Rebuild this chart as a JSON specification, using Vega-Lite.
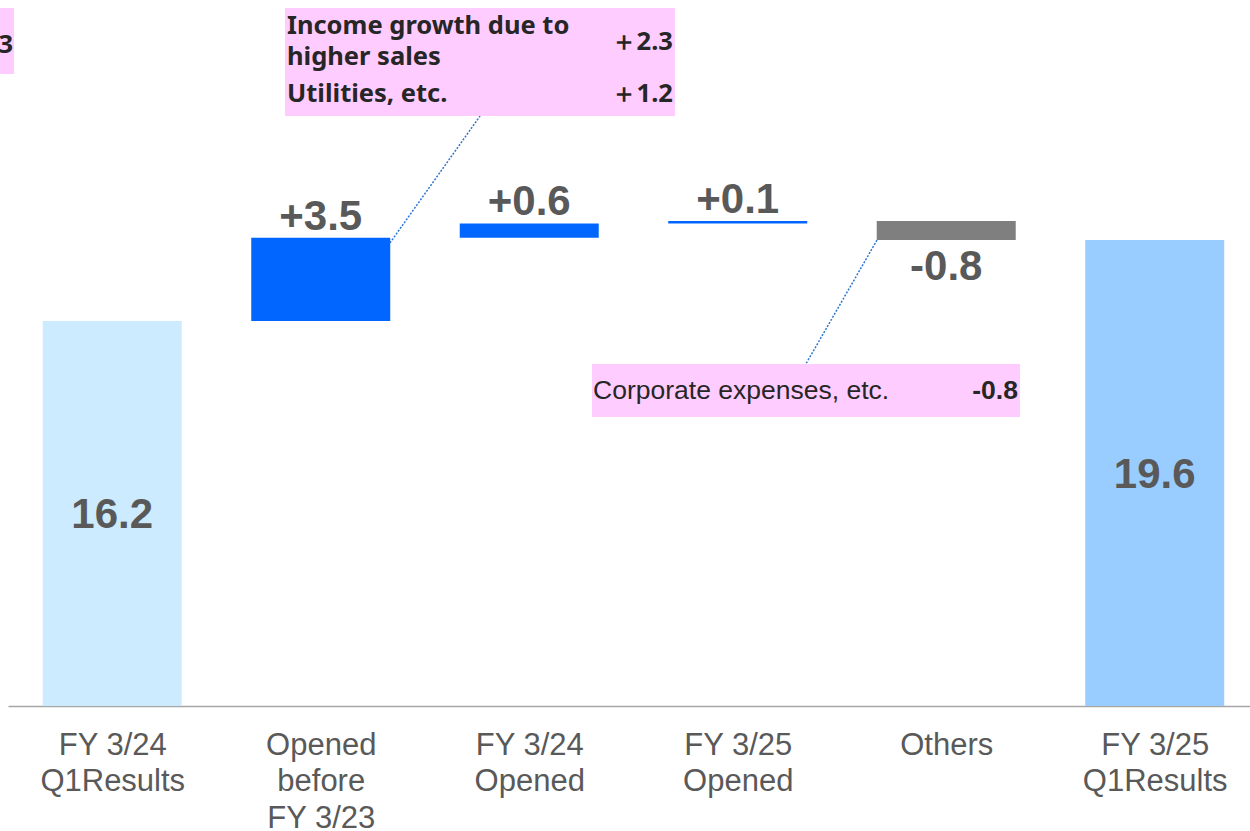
{
  "$schema": "https://vega.github.io/schema/vega-lite/v6.json",
  "autosize": "none",
  "width": 1242,
  "height": 706,
  "padding": {"left": 8, "top": 0, "right": 0, "bottom": 125},
  "background": "white",
  "config": {"view": {"stroke": null}},
  "datasets": {
    "bars": [
      {"pos": 0.5, "start": 0, "end": 16.2, "type": "total1", "label": "16.2"},
      {"pos": 1.5, "start": 16.2, "end": 19.7, "type": "up", "label": "+3.5"},
      {"pos": 2.5, "start": 19.7, "end": 20.3, "type": "up", "label": "+0.6"},
      {"pos": 3.5, "start": 20.3, "end": 20.4, "type": "up", "label": "+0.1"},
      {"pos": 4.5, "start": 20.4, "end": 19.6, "type": "down", "label": "-0.8"},
      {"pos": 5.5, "start": 0, "end": 19.6, "type": "total2", "label": "19.6"}
    ],
    "boxes": [
      {"x1": 1.3285, "x2": 3.199, "y1": 29.36, "y2": 24.82},
      {"x1": 2.801, "x2": 4.854, "y1": 14.39, "y2": 12.16},
      {"x1": -0.04, "x2": 0.029, "y1": 29.36, "y2": 26.59}
    ],
    "leaders": [
      {"x1": 1.832, "y1": 19.48, "x2": 2.264, "y2": 24.82},
      {"x1": 4.168, "y1": 19.6, "x2": 3.827, "y2": 14.39}
    ],
    "noteLeft": [
      {"x": 1.338, "y": 28.6, "text": "Income growth due to"},
      {"x": 1.338, "y": 27.3, "text": "higher sales"},
      {"x": 1.338, "y": 25.75, "text": "Utilities, etc."}
    ],
    "noteRight": [
      {"x": 3.189, "y": 27.94, "text": "＋2.3"},
      {"x": 3.189, "y": 25.75, "text": "＋1.2"},
      {"x": 0.024, "y": 27.81, "text": "3"}
    ],
    "corpLeft": [
      {"x": 2.806, "y": 13.25, "text": "Corporate expenses, etc."}
    ],
    "corpRight": [
      {"x": 4.844, "y": 13.25, "text": "-0.8"}
    ]
  },
  "layer": [
    {
      "data": {"name": "bars"},
      "mark": {"type": "bar", "width": 139},
      "encoding": {
        "x": {
          "field": "pos",
          "type": "quantitative",
          "scale": {"domain": [0, 5.957], "nice": false, "zero": false, "padding": 0},
          "axis": {
            "title": null,
            "values": [0.5, 1.5, 2.5, 3.5, 4.5, 5.5],
            "labelExpr": "[['FY 3/24','Q1Results'],['Opened','before','FY 3/23'],['FY 3/24','Opened'],['FY 3/25','Opened'],['Others'],['FY 3/25','Q1Results']][floor(datum.value)]",
            "grid": false,
            "ticks": false,
            "domainColor": "#A6A6A6",
            "domainWidth": 1.5,
            "labelFont": "Liberation Sans",
            "labelFontSize": 31,
            "labelColor": "#595959",
            "labelLineHeight": 36.5,
            "labelBaseline": "top",
            "labelPadding": 24,
            "labelFlush": false,
            "labelOverlap": false
          }
        },
        "y": {
          "field": "start",
          "type": "quantitative",
          "scale": {"domain": [0, 29.7], "nice": false},
          "axis": null
        },
        "y2": {"field": "end"},
        "color": {
          "field": "type",
          "type": "nominal",
          "scale": {"domain": ["total1", "up", "down", "total2"], "range": ["#CCEBFF", "#0066FF", "#7F7F7F", "#99CCFF"]},
          "legend": null
        }
      }
    },
    {
      "data": {"name": "bars"},
      "transform": [
        {"filter": "datum.type == 'total1' || datum.type == 'total2'"},
        {"fold": ["start", "end"]},
        {"aggregate": [{"op": "mean", "field": "value", "as": "mid"}], "groupby": ["pos", "label"]}
      ],
      "mark": {"type": "text", "font": "Liberation Sans", "fontWeight": "bold", "fontSize": 42, "color": "#595959", "baseline": "middle", "align": "center", "dy": 2},
      "encoding": {
        "x": {"field": "pos", "type": "quantitative"},
        "y": {"field": "mid", "type": "quantitative"},
        "text": {"field": "label"}
      }
    },
    {
      "data": {"name": "bars"},
      "transform": [{"filter": "datum.type == 'up'"}],
      "mark": {"type": "text", "font": "Liberation Sans", "fontWeight": "bold", "fontSize": 42, "color": "#595959", "baseline": "alphabetic", "align": "center", "dy": -8},
      "encoding": {
        "x": {"field": "pos", "type": "quantitative"},
        "y": {"field": "end", "type": "quantitative"},
        "text": {"field": "label"}
      }
    },
    {
      "data": {"name": "bars"},
      "transform": [{"filter": "datum.type == 'down'"}],
      "mark": {"type": "text", "font": "Liberation Sans", "fontWeight": "bold", "fontSize": 42, "color": "#595959", "baseline": "alphabetic", "align": "center", "dy": 40},
      "encoding": {
        "x": {"field": "pos", "type": "quantitative"},
        "y": {"field": "end", "type": "quantitative"},
        "text": {"field": "label"}
      }
    },
    {
      "data": {"name": "leaders"},
      "mark": {"type": "rule", "color": "#2E75D6", "strokeWidth": 1.5, "strokeDash": [2, 1.5]},
      "encoding": {
        "x": {"field": "x1", "type": "quantitative"},
        "x2": {"field": "x2"},
        "y": {"field": "y1", "type": "quantitative"},
        "y2": {"field": "y2"}
      }
    },
    {
      "data": {"name": "boxes"},
      "mark": {"type": "rect", "color": "#FFCCFF"},
      "encoding": {
        "x": {"field": "x1", "type": "quantitative"},
        "x2": {"field": "x2"},
        "y": {"field": "y1", "type": "quantitative"},
        "y2": {"field": "y2"}
      }
    },
    {
      "data": {"name": "noteLeft"},
      "mark": {"type": "text", "font": "Noto Sans", "fontWeight": "bold", "fontSize": 25.5, "color": "#262626", "align": "left", "baseline": "middle"},
      "encoding": {
        "x": {"field": "x", "type": "quantitative"},
        "y": {"field": "y", "type": "quantitative"},
        "text": {"field": "text"}
      }
    },
    {
      "data": {"name": "noteRight"},
      "mark": {"type": "text", "font": "Noto Sans", "fontWeight": "bold", "fontSize": 25.5, "color": "#262626", "align": "right", "baseline": "middle"},
      "encoding": {
        "x": {"field": "x", "type": "quantitative"},
        "y": {"field": "y", "type": "quantitative"},
        "text": {"field": "text"}
      }
    },
    {
      "data": {"name": "corpLeft"},
      "mark": {"type": "text", "font": "Liberation Sans", "fontSize": 26.5, "color": "#262626", "align": "left", "baseline": "middle"},
      "encoding": {
        "x": {"field": "x", "type": "quantitative"},
        "y": {"field": "y", "type": "quantitative"},
        "text": {"field": "text"}
      }
    },
    {
      "data": {"name": "corpRight"},
      "mark": {"type": "text", "font": "Liberation Sans", "fontWeight": "bold", "fontSize": 26.5, "color": "#262626", "align": "right", "baseline": "middle"},
      "encoding": {
        "x": {"field": "x", "type": "quantitative"},
        "y": {"field": "y", "type": "quantitative"},
        "text": {"field": "text"}
      }
    }
  ]
}
